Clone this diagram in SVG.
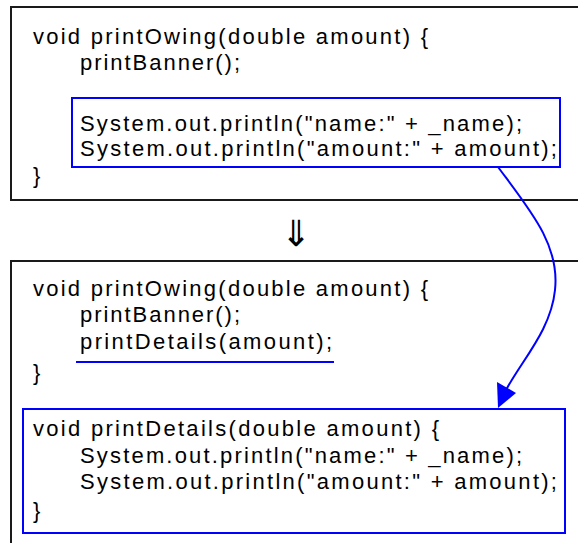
<svg xmlns="http://www.w3.org/2000/svg" width="578" height="543" viewBox="0 0 578 543">
<style>
.outer{fill:none;stroke:#1a1a1a;stroke-width:2}
.hl{fill:none;stroke:#0000ff;stroke-width:2}
.code{font-family:"Liberation Sans",Arial,sans-serif;font-size:22px;fill:#000}
</style>
<rect width="578" height="543" fill="#fff"/>
<g id="before">
<rect class="outer" x="11" y="7" width="600" height="193"/>
<text class="code" x="33" y="44" textLength="395" lengthAdjust="spacing">void printOwing(double amount) {</text>
<text class="code" x="80" y="70" textLength="160" lengthAdjust="spacing">printBanner();</text>
<g id="before-details">
<rect class="hl" x="72" y="98" width="488" height="69"/>
<text class="code" x="80" y="131" textLength="442" lengthAdjust="spacing">System.out.println("name:" + _name);</text>
<text class="code" x="80" y="156" textLength="477" lengthAdjust="spacing">System.out.println("amount:" + amount);</text>
</g>
<text class="code" x="33" y="183">}</text>
</g>
<g id="transform-arrow">
<text x="296" y="246" text-anchor="middle" font-family="DejaVu Sans, sans-serif" font-size="36" fill="#000">⇓</text>
</g>
<g id="after">
<rect class="outer" x="11" y="261" width="600" height="300"/>
<text class="code" x="33" y="296" textLength="395" lengthAdjust="spacing">void printOwing(double amount) {</text>
<text class="code" x="80" y="322" textLength="160" lengthAdjust="spacing">printBanner();</text>
<text class="code" x="80" y="349" textLength="252" lengthAdjust="spacing">printDetails(amount);</text>
<line class="hl" x1="76" y1="362" x2="334" y2="362"/>
<text class="code" x="33" y="380">}</text>
</g>
<g id="printDetails">
<rect class="hl" x="23" y="409" width="542" height="124"/>
<text class="code" x="33" y="436" textLength="406" lengthAdjust="spacing">void printDetails(double amount) {</text>
<text class="code" x="80" y="463" textLength="442" lengthAdjust="spacing">System.out.println("name:" + _name);</text>
<text class="code" x="80" y="489" textLength="477" lengthAdjust="spacing">System.out.println("amount:" + amount);</text>
<text class="code" x="33" y="518">}</text>
</g>
<g id="connectors">
<path class="hl" d="M498,167 C530,210 560,245 555,290 C551,330 522,360 506,390"/>
<polygon points="498,408 497,382 516,393" fill="#0000ff"/>
</g>
</svg>
